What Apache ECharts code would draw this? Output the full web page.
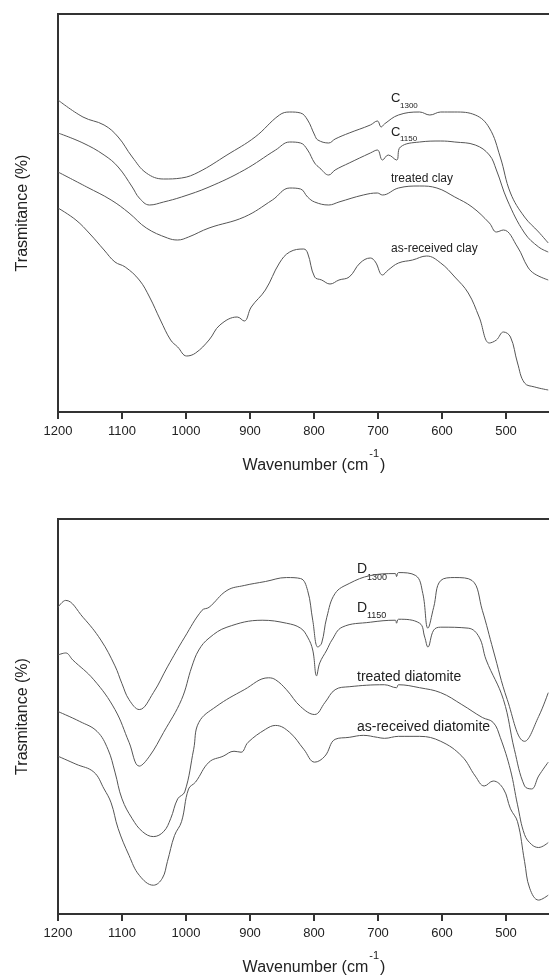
<!DOCTYPE html>
<html>
<head>
<meta charset="utf-8">
<script src="https://cdn.jsdelivr.net/npm/echarts@6/dist/echarts.min.js"></script>
<style>
  html, body { margin: 0; padding: 0; background: #fff; overflow: hidden; }
  #chart { width: 600px; height: 977px; }
</style>
</head>
<body>
<div id="chart"></div>
<script>
// wavenumber ticks
const xTicks = [1200, 1100, 1000, 900, 800, 700, 600, 500]

// top panel: clay (transmittance, arbitrary units)
const c1300Wn = [1200,1161,1128,1106,1084,1062,1035,1007,980,936,892,854,838,821,810,799,794,777,767,745,712,701,695,690,668,635,619,602,580,548,526,509,493,471,449,434]
const c1300 = [312,295,287,275,255,239,233,234,240,257,275,297,300,299,292,277,272,269,273,279,287,291,285,288,297,300,297,300,300,297,284,255,219,195,180,169]

const c1150Wn = [1200,1161,1128,1106,1084,1073,1057,1035,1007,964,909,860,838,821,810,799,791,777,767,745,712,701,693,684,671,665,635,602,580,548,526,515,498,471,449,434]
const c1150 = [279,269,257,245,225,214,207,210,215,225,242,262,270,269,262,249,244,237,242,249,259,262,252,257,252,265,270,271,270,267,257,242,212,179,165,160]

const treatedClayWn = [1200,1155,1117,1089,1062,1029,1013,996,964,909,865,838,821,810,799,777,761,723,701,693,668,635,608,580,553,526,515,504,482,466,455,434]
const treatedClay = [240,225,212,199,184,174,172,175,184,195,212,224,223,215,210,207,210,217,219,217,224,226,224,215,205,189,180,182,165,145,138,132]

const rawClayWn = [1200,1172,1150,1128,1111,1095,1073,1057,1040,1024,1013,999,985,964,947,920,909,898,876,854,838,816,810,799,788,775,761,745,728,712,704,693,684,668,646,624,602,580,559,542,526,515,504,493,482,471,455,434]
const rawClay = [204,192,178,162,150,145,132,115,92,72,65,56,59,72,87,95,91,105,122,149,160,163,159,135,132,128,132,135,149,154,150,137,142,149,152,156,149,135,119,95,69,72,80,75,49,29,25,22]

// bottom panel: diatomite
const d1300Wn = [1200,1188,1161,1133,1111,1100,1089,1073,1051,1029,1002,975,964,936,909,876,843,821,810,802,794,788,780,767,745,712,673,671,668,641,630,622,613,602,580,553,537,520,498,471,449,434]
const d1300 = [309,316,299,276,250,232,216,206,223,249,279,306,309,326,331,335,339,338,326,296,269,273,299,323,333,341,343,340,344,341,323,288,309,336,339,336,306,266,216,174,199,223]

const d1150Wn = [1200,1188,1177,1144,1111,1089,1073,1057,1035,1007,991,980,964,936,881,843,821,810,802,796,791,780,772,756,712,673,671,668,635,627,622,613,602,559,542,531,504,487,471,460,449,434]
const d1150 = [261,263,256,236,206,173,149,159,183,216,249,266,278,289,296,293,288,279,266,240,253,266,276,289,294,296,293,297,293,279,269,286,289,288,279,256,216,166,129,126,139,153]

const treatedDiaWn = [1200,1166,1139,1122,1111,1100,1084,1068,1051,1035,1024,1013,1002,988,980,953,909,871,860,843,821,799,783,767,745,690,671,668,635,602,569,537,520,509,493,482,471,460,449,434]
const treatedDia = [204,194,184,166,143,116,96,83,78,83,96,116,123,166,193,209,226,238,236,226,209,201,213,226,229,231,228,231,228,223,211,198,193,178,145,110,80,70,67,72]

const rawDiaWn = [1200,1172,1144,1128,1117,1106,1089,1073,1051,1037,1029,1018,1007,996,985,964,942,925,914,903,876,860,838,816,799,783,767,745,723,701,690,668,635,602,569,548,534,520,504,493,482,471,463,449,434]
const rawDia = [159,151,143,126,112,86,59,39,29,36,53,79,93,126,133,153,159,164,163,173,186,190,183,166,153,159,176,178,180,178,177,179,179,174,159,139,129,134,126,106,93,53,26,14,19]

const font = '"Liberation Sans", Arial, sans-serif'
const lineColor = '#555'
const axisColor = '#333'

function pairs(wn, val) {
  return wn.map((w, i) => [w, val[i]])
}

function line(name, wn, val, idx) {
  return {
    name: name,
    type: 'line',
    xAxisIndex: idx,
    yAxisIndex: idx,
    data: pairs(wn, val),
    smooth: 0.4,
    showSymbol: false,
    silent: true,
    lineStyle: { color: lineColor, width: 1 },
  }
}

function xAxisOpt(idx) {
  return {
    type: 'value',
    gridIndex: idx,
    inverse: true,
    min: 400,
    max: 1200,
    interval: 100,
    name: '{a|Wavenumber (cm}{s|-1}{a|)}',
    nameLocation: 'middle',
    nameGap: 36,
    nameTextStyle: {
      rich: {
        a: { fontSize: 16, lineHeight: 26, fontFamily: font, color: '#222', verticalAlign: 'bottom' },
        s: { fontSize: 11, lineHeight: 12, fontFamily: font, color: '#222', verticalAlign: 'top', padding: [0, 1, 0, 1] },
      },
    },
    axisLine: { lineStyle: { color: axisColor, width: 2 } },
    axisTick: { length: 7, lineStyle: { color: axisColor, width: 2 } },
    axisLabel: {
      fontSize: 13,
      fontFamily: font,
      color: '#222',
      margin: 13,
      formatter: (v) => (xTicks.includes(v) ? String(v) : ''),
    },
    splitLine: { show: false },
  }
}

function yAxisOpt(idx) {
  return {
    type: 'value',
    gridIndex: idx,
    min: 0,
    max: 398,
    name: 'Trasmitance (%)',
    nameLocation: 'middle',
    nameGap: 27,
    nameTextStyle: { fontSize: 16, fontFamily: font, color: '#222' },
    axisLine: { show: true, lineStyle: { color: axisColor, width: 2 } },
    axisTick: { show: false },
    axisLabel: { show: false },
    splitLine: { show: false },
  }
}

function txt(x, y, text, size) {
  return {
    type: 'text',
    x: x,
    y: y,
    silent: true,
    style: {
      text: text,
      font: size + 'px ' + font,
      fill: '#222',
      verticalAlign: 'middle',
    },
  }
}

const chart = echarts.init(document.getElementById('chart'))
chart.setOption({
  animation: false,
  grid: [
    { left: 58, top: 14, width: 512, height: 398, show: true, borderColor: axisColor, borderWidth: 2 },
    { left: 58, top: 519, width: 512, height: 397, show: true, borderColor: axisColor, borderWidth: 2 },
  ],
  xAxis: [xAxisOpt(0), xAxisOpt(1)],
  yAxis: [yAxisOpt(0), yAxisOpt(1)],
  series: [
    line('C1300', c1300Wn, c1300, 0),
    line('C1150', c1150Wn, c1150, 0),
    line('treated clay', treatedClayWn, treatedClay, 0),
    line('as-received clay', rawClayWn, rawClay, 0),
    line('D1300', d1300Wn, d1300, 1),
    line('D1150', d1150Wn, d1150, 1),
    line('treated diatomite', treatedDiaWn, treatedDia, 1),
    line('as-received diatomite', rawDiaWn, rawDia, 1),
  ],
  graphic: [
    txt(391, 98, 'C', 13),
    txt(400, 106, '1300', 8),
    txt(391, 132, 'C', 13),
    txt(400, 139, '1150', 8),
    txt(391, 179, 'treated clay', 12),
    txt(391, 249, 'as-received clay', 12),
    txt(357, 569, 'D', 14),
    txt(367, 578, '1300', 9),
    txt(357, 608, 'D', 14),
    txt(367, 616, '1150', 9),
    txt(357, 677, 'treated diatomite', 14),
    txt(357, 727, 'as-received diatomite', 14),
  ],
})
</script>
</body>
</html>
